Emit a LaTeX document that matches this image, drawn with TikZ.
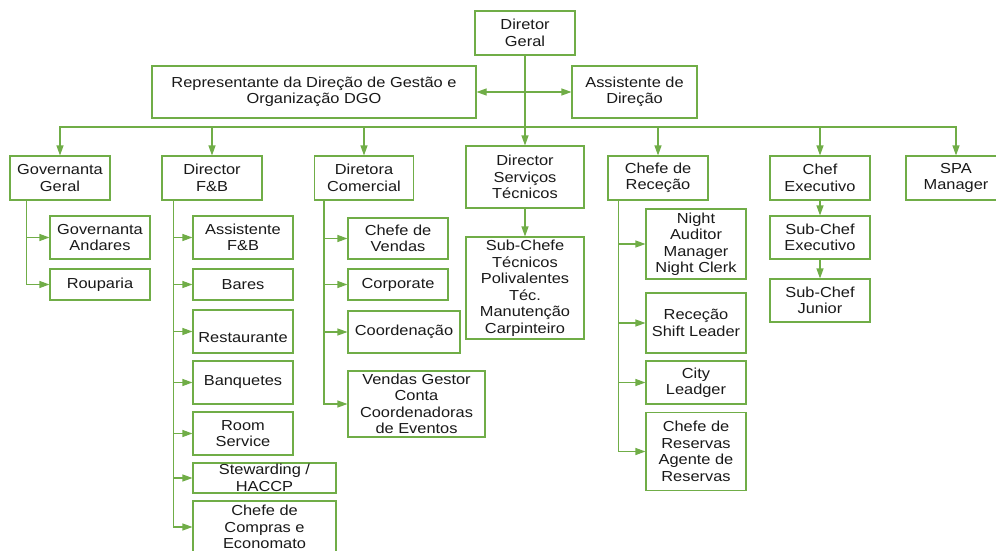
\documentclass[tikz,border=0pt]{standalone}
\usepackage{fontspec}
\setmainfont{Liberation Sans}[FakeStretch=1.13]
\usetikzlibrary{arrows.meta}
\definecolor{orggreen}{RGB}{112,173,71}

\begin{document}
\begin{tikzpicture}[x=1pt, y=-1pt,
  box/.style={draw=orggreen, line width=1.1pt, fill=white, align=center, inner sep=0pt,
    text=black!90, font=\fontsize{14.5}{16.5}\selectfont, minimum width=100, minimum height=44},
  link/.style={draw=orggreen, line width=1.1pt, -{Triangle[length=10pt,width=7pt]}},
  both/.style={link, {Triangle[length=10pt,width=7pt]}-{Triangle[length=10pt,width=7pt]}}]
  \useasboundingbox (0,0) rectangle (996,551);
  % Direction
  \node[box] (dg) at (525,33) {Diretor\\Geral};
  \node[box, minimum width=324, minimum height=52] (rep) at (314,92) {Representante da Direção de Gestão e\\Organização DGO};
  \node[box, minimum width=125, minimum height=52] (ad) at (634.5,92) {Assistente de\\Direção};
  % Departments
  \node[box] (gg) at (60,178) {Governanta\\Geral};
  \node[box] (fb) at (212,178) {Director\\F\&B};
  \node[box, minimum width=99] (dc) at (364,178) {Diretora\\Comercial};
  \node[box, minimum width=118, minimum height=62] (dst) at (525,177) {Director\\Serviços\\Técnicos};
  \node[box] (cr) at (658,178) {Chefe de\\Receção};
  \node[box] (ce) at (820,178) {Chef\\Executivo};
  \node[box] (spa) at (956,178) {SPA\\Manager};
  % Governanta
  \node[box, minimum height=43] (ga) at (100,237.5) {Governanta\\Andares};
  \node[box, minimum height=31] (rp) at (100,284.5) {Rouparia};
  % F&B
  \node[box, minimum height=43] (afb) at (243,237.5) {Assistente\\F\&B};
  \node[box, minimum height=31] (bar) at (243,284.5) {Bares};
  \node[box, minimum height=43] (rest) at (243,331.5) {\raisebox{-6pt}[\height][\depth]{Restaurante}};
  \node[box, minimum height=43] (banq) at (243,382.5) {Banquetes};
  \node[box, minimum height=43] (room) at (243,433.5) {Room\\Service};
  \node[box, minimum width=143, minimum height=30] (stew) at (264.5,478) {Stewarding /\\HACCP};
  \node[box, minimum width=143, minimum height=52] (comp) at (264.5,527) {Chefe de\\Compras e\\Economato};
  % Comercial
  \node[box, minimum height=41] (cv) at (398,238.5) {Chefe de\\Vendas};
  \node[box, minimum height=31] (corp) at (398,284.5) {Corporate};
  \node[box, minimum width=112, minimum height=42] (coord) at (404,332) {Coordenação};
  \node[box, minimum width=137, minimum height=66] (vg) at (416.5,404) {Vendas Gestor\\Conta\\Coordenadoras\\de Eventos};
  % Servicos Tecnicos
  \node[box, minimum width=118, minimum height=102] (sct) at (525,288) {Sub-Chefe\\Técnicos\\Polivalentes\\Téc.\\Manutenção\\Carpinteiro};
  % Rececao
  \node[box, minimum height=70] (na) at (696,244) {Night\\Auditor\\Manager\\Night Clerk};
  \node[box, minimum height=60] (rsl) at (696,323) {Receção\\Shift Leader};
  \node[box, minimum height=43] (city) at (696,382.5) {City\\Leadger};
  \node[box, minimum height=78] (res) at (696,451.5) {Chefe de\\Reservas\\Agente de\\Reservas};
  % Chef
  \node[box, minimum height=43] (sce) at (820,237.5) {Sub-Chef\\Executivo};
  \node[box, minimum height=43] (scj) at (820,300.5) {Sub-Chef\\Junior};
  % Links
  \draw[link] (dg) -- (dst);
  \draw[link] (dst) -- (sct);
  \draw[both] (rep) -- (ad);
  \coordinate (bus) at (525,127);
  \foreach \d in {gg,fb,dc,cr,ce,spa}
    \draw[link] (bus) -| (\d.north);
  \coordinate (ggt) at ([xshift=17pt]gg.south west);
  \foreach \s in {ga,rp}
    \draw[link] (ggt) |- (\s.west);
  \coordinate (fbt) at ([xshift=12pt]fb.south west);
  \foreach \s in {afb,bar,rest,banq,room,stew,comp}
    \draw[link] (fbt) |- (\s.west);
  \coordinate (dct) at ([xshift=10pt]dc.south west);
  \foreach \s in {cv,corp,coord,vg}
    \draw[link] (dct) |- (\s.west);
  \coordinate (crt) at ([xshift=11pt]cr.south west);
  \foreach \s in {na,rsl,city,res}
    \draw[link] (crt) |- (\s.west);
  \draw[link] (ce) -- (sce);
  \draw[link] (sce) -- (scj);
\end{tikzpicture}
\end{document}
